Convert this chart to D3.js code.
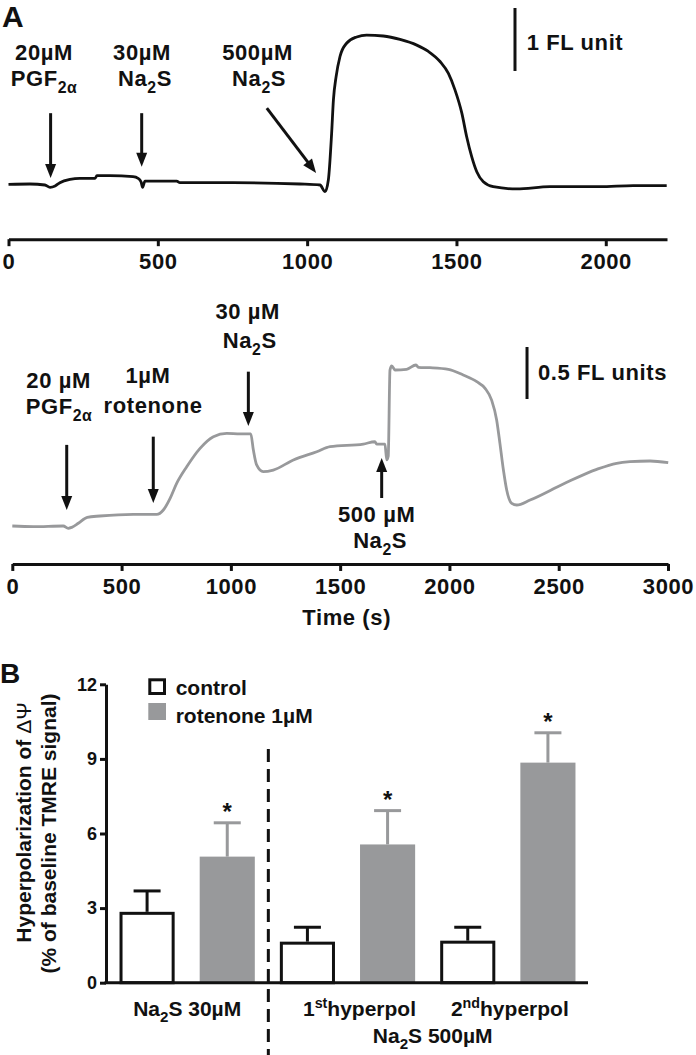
<!DOCTYPE html>
<html><head><meta charset="utf-8">
<script src="https://cdn.jsdelivr.net/npm/d3@7"></script>
<style>
body{margin:0;background:#fff;}
svg{display:block;font-family:"Liberation Sans",Arial,Helvetica,sans-serif;font-weight:bold;}
</style></head><body>
<svg id="c" width="696" height="1055"></svg>
<script>
// ---------- DATA ----------
// Panel A, top trace (time s, fluorescence units relative to baseline)
const topTime = [0,72,122,139,156,172,206,239,290,296,340,417,434,444,449,457,507,563,574,752,976,1043,1060,1071,1082,1088,1097,1110,1132,1166,1199,1255,1311,1367,1406,1445,1473,1495,1518,1534,1551,1568,1590,1623,1702,1813,1980,2092,2204];
const topSignal = [0.011,0.016,0,-0.037,-0.016,0.037,0.09,0.106,0.106,0.148,0.148,0.132,0.106,0.048,-0.037,0.063,0.063,0.063,0.037,0.037,0.016,0,-0.106,0.079,0.82,1.35,1.72,2.04,2.25,2.35,2.38,2.365,2.31,2.22,2.12,1.96,1.77,1.51,1.14,0.77,0.45,0.21,0.05,-0.027,-0.063,-0.027,-0.027,-0.011,-0.011];
// Panel A, bottom trace
const botTime = [0,96,233,256,272,302,343,401,554,661,691,722,752,798,859,920,981,1042,1091,1103,1118,1148,1194,1286,1393,1454,1606,1659,1667,1705,1713,1720,1728,1736,1751,1804,1847,1858,1911,1995,2063,2125,2163,2193,2216,2231,2247,2262,2285,2308,2369,2521,2674,2765,2826,2918,3001];
const botSignal = [0,-0.006,0,-0.022,-0.013,0.026,0.084,0.096,0.112,0.112,0.154,0.266,0.41,0.57,0.747,0.859,0.891,0.885,0.885,0.73,0.587,0.522,0.538,0.635,0.714,0.763,0.788,0.81,0.788,0.788,0.635,0.67,1.5,1.54,1.5,1.507,1.548,1.526,1.522,1.507,1.452,1.388,1.324,1.21,1.02,0.795,0.538,0.346,0.218,0.202,0.25,0.404,0.545,0.603,0.618,0.625,0.609];
const topTicks = [0,500,1000,1500,2000];
const botTicks = [0,500,1000,1500,2000,2500,3000];
// Panel B
const groups = ["g1","g2","g3"];
const series = ["control","rotenone 1µM"];
const controlMean = [2.85,1.65,1.69];
const controlSEM = [0.84,0.58,0.54];
const rotenoneMean = [5.07,5.56,8.85];
const rotenoneSEM = [1.36,1.36,1.2];
const yTicksB = [0,3,6,9,12];

// ---------- DRAW ----------
const svg = d3.select("#c");
const GRAY = "#98999b";
const FA = 22, LS = 0.6;   // panel A text
const FB = 21;             // panel B text

function rich(g, x, y, segs, size, anchor, ls){
  const t = g.append("text").attr("x",x).attr("y",y).attr("font-size",size)
    .attr("text-anchor",anchor||"middle");
  if (ls) t.attr("letter-spacing",ls);
  let shift = 0;
  segs.forEach(s=>{
    const sp = t.append("tspan").text(s.t);
    let want = 0;
    if (s.sub){ sp.attr("font-size",size*0.72); want = size*0.3; }
    else if (s.sup){ sp.attr("font-size",size*0.68); want = -size*0.4; }
    if (want !== shift){ sp.attr("dy", want-shift); shift = want; }
  });
  return t;
}
function arrow(g, x1,y1,x2,y2){
  const L=14, hw=5.5;
  const dx=x2-x1, dy=y2-y1, len=Math.hypot(dx,dy), ux=dx/len, uy=dy/len;
  const bx=x2-ux*L, by=y2-uy*L;
  g.append("line").attr("x1",x1).attr("y1",y1).attr("x2",bx+ux).attr("y2",by+uy)
    .attr("stroke","#111").attr("stroke-width",3);
  g.append("path").attr("d",`M${x2},${y2}L${bx-uy*hw},${by+ux*hw}L${bx+uy*hw},${by-ux*hw}Z`).attr("fill","#111");
}
function styleAxis(ax, size, ls){
  ax.attr("font-family",null).attr("font-size",null);
  ax.select(".domain").attr("stroke","#111").attr("stroke-width",3);
  ax.selectAll(".tick line").attr("stroke","#111").attr("stroke-width",3);
  const tt = ax.selectAll(".tick text").attr("fill","#111").attr("font-size",size).attr("font-weight","bold");
  if (ls) tt.attr("letter-spacing",ls);
}

// ----- Panel A top -----
const xTop = d3.scaleLinear().domain([0,2205]).range([8.5,667]);
const yTop = d3.scaleLinear().domain([0,1]).range([185,122]);
const gA = svg.append("g");
gA.append("text").attr("x",2).attr("y",27).attr("font-size",30).text("A");

gA.append("path").datum(topTime.map((t,i)=>[t,topSignal[i]]))
  .attr("fill","none").attr("stroke","#111").attr("stroke-width",2.8)
  .attr("stroke-linejoin","round")
  .attr("d", d3.line().x(d=>xTop(d[0])).y(d=>yTop(d[1])).curve(d3.curveMonotoneX));

const axTop = gA.append("g").attr("transform",`translate(0,${yTop(-0.86)})`)
  .call(d3.axisBottom(xTop).tickValues(topTicks).tickFormat(d3.format("d")).tickSize(7).tickSizeOuter(0).tickPadding(7));
styleAxis(axTop, FA, LS);

// scale bar
gA.append("line").attr("x1",xTop(1696)).attr("x2",xTop(1696)).attr("y1",yTop(2.81)).attr("y2",yTop(1.81))
  .attr("stroke","#111").attr("stroke-width",3);
rich(gA, xTop(1735), yTop(2.143), [{t:"1 FL unit"}], FA, "start", LS);

// annotations
rich(gA, xTop(119), yTop(1.984), [{t:"20µM"}], FA, "middle", LS);
rich(gA, xTop(119), yTop(1.571), [{t:"PGF"},{t:"2α",sub:true}], FA, "middle", LS);
arrow(gA, xTop(141), yTop(1.14), xTop(141), yTop(0.11));
rich(gA, xTop(447), yTop(1.984), [{t:"30µM"}], FA, "middle", LS);
rich(gA, xTop(457), yTop(1.571), [{t:"Na"},{t:"2",sub:true},{t:"S"}], FA, "middle", LS);
arrow(gA, xTop(446), yTop(1.14), xTop(446), yTop(0.29));
rich(gA, xTop(834), yTop(1.984), [{t:"500µM"}], FA, "middle", LS);
rich(gA, xTop(839), yTop(1.571), [{t:"Na"},{t:"2",sub:true},{t:"S"}], FA, "middle", LS);
arrow(gA, xTop(865), yTop(1.22), xTop(1030), yTop(0.19));

// ----- Panel A bottom -----
const xBot = d3.scaleLinear().domain([0,3000]).range([12.3,668]);
const yBot = d3.scaleLinear().domain([0,1]).range([526,422]);
const gB = svg.append("g");
gB.append("path").datum(botTime.map((t,i)=>[t,botSignal[i]]))
  .attr("fill","none").attr("stroke",GRAY).attr("stroke-width",2.8)
  .attr("stroke-linejoin","round")
  .attr("d", d3.line().x(d=>xBot(d[0])).y(d=>yBot(d[1])).curve(d3.curveMonotoneX));
const axBot = gB.append("g").attr("transform",`translate(0,${yBot(-0.365)})`)
  .call(d3.axisBottom(xBot).tickValues(botTicks).tickFormat(d3.format("d")).tickSize(7).tickSizeOuter(0).tickPadding(7));
styleAxis(axBot, FA, LS);
rich(gB, xBot(1530), yBot(-0.95), [{t:"Time (s)"}], FA, "middle", LS);

gB.append("line").attr("x1",xBot(2355)).attr("x2",xBot(2355)).attr("y1",yBot(1.721)).attr("y2",yBot(1.221))
  .attr("stroke","#111").attr("stroke-width",3);
rich(gB, xBot(2405), yBot(1.404), [{t:"0.5 FL units"}], FA, "start", LS);

rich(gB, xBot(212), yBot(1.33), [{t:"20 µM"}], FA, "middle", LS);
rich(gB, xBot(214), yBot(1.077), [{t:"PGF"},{t:"2α",sub:true}], FA, "middle", LS);
arrow(gB, xBot(249), yBot(0.78), xBot(249), yBot(0.154));
rich(gB, xBot(621), yBot(1.372), [{t:"1µM"}], FA, "middle", LS);
rich(gB, xBot(644), yBot(1.084), [{t:"rotenone"}], FA, "middle", LS);
arrow(gB, xBot(645), yBot(0.859), xBot(645), yBot(0.221));
rich(gB, xBot(1077), yBot(1.988), [{t:"30 µM"}], FA, "middle", LS);
rich(gB, xBot(1086), yBot(1.709), [{t:"Na"},{t:"2",sub:true},{t:"S"}], FA, "middle", LS);
arrow(gB, xBot(1080), yBot(1.484), xBot(1080), yBot(0.962));
rich(gB, xBot(1667), yBot(0.041), [{t:"500 µM"}], FA, "middle", LS);
rich(gB, xBot(1683), yBot(-0.214), [{t:"Na"},{t:"2",sub:true},{t:"S"}], FA, "middle", LS);
arrow(gB, xBot(1690), yBot(0.269), xBot(1690), yBot(0.654));

// ----- Panel B -----
const yB = d3.scaleLinear().domain([0,12]).range([982.7,684.3]);
const xOuter = d3.scaleBand().domain(groups).range([107,588]).padding(0);
const xInner = d3.scaleBand().domain(series).range([0,xOuter.bandwidth()]).paddingInner(0.3125).paddingOuter(0.15625);
const gC = svg.append("g");
gC.append("text").attr("x",0).attr("y",683).attr("font-size",28).text("B");

const bars = [];
groups.forEach((g,i)=>{
  bars.push({g, s:series[0], m:controlMean[i], e:controlSEM[i]});
  bars.push({g, s:series[1], m:rotenoneMean[i], e:rotenoneSEM[i]});
});
const bw = xInner.bandwidth();
const bx = d=>xOuter(d.g)+xInner(d.s);
// error bars
bars.forEach(d=>{
  const cx = bx(d)+bw/2, col = d.s===series[0] ? "#111" : GRAY;
  gC.append("line").attr("x1",cx).attr("x2",cx).attr("y1",yB(d.m)).attr("y2",yB(d.m+d.e))
    .attr("stroke",col).attr("stroke-width",3);
  gC.append("line").attr("x1",cx-13.5).attr("x2",cx+13.5).attr("y1",yB(d.m+d.e)).attr("y2",yB(d.m+d.e))
    .attr("stroke",col).attr("stroke-width",3);
});
gC.selectAll("rect.bar").data(bars).join("rect").attr("class","bar")
  .attr("x",d=>d.s===series[0]?bx(d)+1.5:bx(d))
  .attr("y",d=>d.s===series[0]?yB(d.m)+1.5:yB(d.m))
  .attr("width",d=>d.s===series[0]?bw-3:bw)
  .attr("height",d=>d.s===series[0]?yB(0)-yB(d.m)-1.5:yB(0)-yB(d.m))
  .attr("fill",d=>d.s===series[0]?"#fff":GRAY)
  .attr("stroke",d=>d.s===series[0]?"#111":"none")
  .attr("stroke-width",3);
// stars
bars.filter(d=>d.s===series[1]).forEach(d=>{
  gC.append("text").attr("x",bx(d)+bw/2).attr("y",yB(d.m+d.e)-3).attr("text-anchor","middle")
    .attr("font-size",24).text("*");
});
// axes
const axB = gC.append("g").attr("transform","translate(106,0)")
  .call(d3.axisLeft(yB).tickValues(yTicksB).tickSize(6).tickSizeOuter(0).tickPadding(3));
styleAxis(axB, 18);
gC.append("line").attr("x1",104.5).attr("x2",588).attr("y1",yB(0)).attr("y2",yB(0))
  .attr("stroke","#111").attr("stroke-width",3);
// dashed separator
gC.append("line").attr("x1",xOuter("g2")+1).attr("x2",xOuter("g2")+1).attr("y1",yB(9.4)).attr("y2",1055)
  .attr("stroke","#111").attr("stroke-width",3).attr("stroke-dasharray","13,7");
// legend
gC.append("rect").attr("x",149.8).attr("y",679.8).attr("width",14.7).attr("height",13.7)
  .attr("fill","#fff").attr("stroke","#111").attr("stroke-width",3);
gC.append("rect").attr("x",148.3).attr("y",703).attr("width",17.7).attr("height",17)
  .attr("fill",GRAY);
rich(gC, 175.7, 695, [{t:"control"}], FB, "start");
rich(gC, 175.7, 723, [{t:"rotenone 1µM"}], FB, "start");
// y title
gC.append("text").attr("transform","translate(30.5,822.5) rotate(-90)").attr("text-anchor","middle")
  .attr("font-size",FB)
  .call(t=>{t.append("tspan").text("Hyperpolarization of "); t.append("tspan").attr("font-weight","normal").text("ΔΨ");});
gC.append("text").attr("transform","translate(56,833.5) rotate(-90)").attr("text-anchor","middle")
  .attr("font-size",FB).text("(% of baseline TMRE signal)");
// category labels
const catDx = [0,12,2];
const gc = g=>xOuter(g)+xOuter.bandwidth()/2;
rich(gC, gc("g1")+catDx[0], 1016, [{t:"Na"},{t:"2",sub:true},{t:"S 30µM"}], FB);
rich(gC, gc("g2")+catDx[1], 1016, [{t:"1"},{t:"st",sup:true},{t:"hyperpol"}], FB);
rich(gC, gc("g3")+catDx[2], 1016, [{t:"2"},{t:"nd",sup:true},{t:"hyperpol"}], FB);
rich(gC, (gc("g2")+gc("g3"))/2+5, 1043, [{t:"Na"},{t:"2",sub:true},{t:"S 500µM"}], FB);
svg.selectAll("text").attr("fill","#111");
</script>
</body></html>
